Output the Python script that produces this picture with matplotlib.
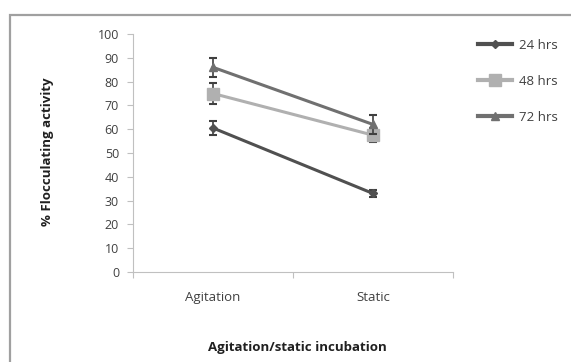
import matplotlib

matplotlib.use("Agg")
import matplotlib.pyplot as plt
from matplotlib.patches import Rectangle

# data
categories = ["Agitation", "Static"]
hrs24 = [60.5, 33.0]
hrs48 = [75.0, 57.5]
hrs72 = [86.0, 62.0]
err24 = [3.0, 1.5]
err48 = [4.5, 3.0]
err72 = [4.0, 4.0]
series_labels = ["24 hrs", "48 hrs", "72 hrs"]

plt.rcParams["font.family"] = ["Open Sans", "DejaVu Sans"]

fig = plt.figure(figsize=(5.71, 3.62), dpi=100)
# outer frame of the embedded chart (cropped at right and bottom)
fig.patches.append(Rectangle((10 / 571, -0.1), 1.2, 1.1 - 15 / 362,
                             transform=fig.transFigure, fill=False,
                             edgecolor="#a0a0a0", lw=1.6))

ax = fig.add_axes([133 / 571, 1 - 272 / 362, 320 / 571, (272 - 34) / 362])
xs = [0.5, 1.5]
styles = [
    (hrs24, err24, "#505050", "D", 4.5),
    (hrs48, err48, "#b0b0b0", "s", 8),
    (hrs72, err72, "#707070", "^", 6),
]
for (vals, errs, col, mk, ms), lab in zip(styles, series_labels):
    ax.errorbar(xs, vals, yerr=errs, fmt="none", ecolor="#404040",
                elinewidth=1.2, capsize=3, capthick=1.5)
    ax.plot(xs, vals, color=col, lw=2.2, marker=mk, ms=ms, label=lab)

ax.set_xlim(0, 2)
ax.set_ylim(0, 100)
ax.set_yticks(range(0, 101, 10))
ax.set_xticks([0, 1, 2])
ax.set_xticklabels(["", "", ""])
ax.set_xticks(xs, minor=True)
ax.set_xticklabels(categories, minor=True)
ax.tick_params(axis="x", which="minor", length=0, pad=14, labelsize=9.5,
               labelcolor="#404040")
ax.tick_params(axis="x", which="major", length=4, color="#c0c0c0")
ax.tick_params(axis="y", length=4, color="#c0c0c0", labelsize=9,
               labelcolor="#404040", pad=6)
for s in ["top", "right"]:
    ax.spines[s].set_visible(False)
for s in ["left", "bottom"]:
    ax.spines[s].set_color("#c0c0c0")

fig.text(48 / 571, 1 - 152 / 362, "% Flocculating activity", rotation=90,
         ha="center", va="center", fontsize=9.5, fontweight="bold",
         color="#202020")
fig.text(297 / 571, 1 - 347 / 362, "Agitation/static incubation",
         ha="center", va="center", fontsize=9.5, fontweight="bold",
         color="#202020")

leg = ax.legend(loc="upper left", bbox_to_anchor=(466 / 571, 1 - 27 / 362),
                bbox_transform=fig.transFigure, frameon=False, fontsize=9.5,
                labelspacing=1.75, handlelength=2.6, handletextpad=0.5,
                labelcolor="#404040")
for h in leg.get_lines():
    h.set_linewidth(3)

fig.savefig("out.png", dpi=100)
